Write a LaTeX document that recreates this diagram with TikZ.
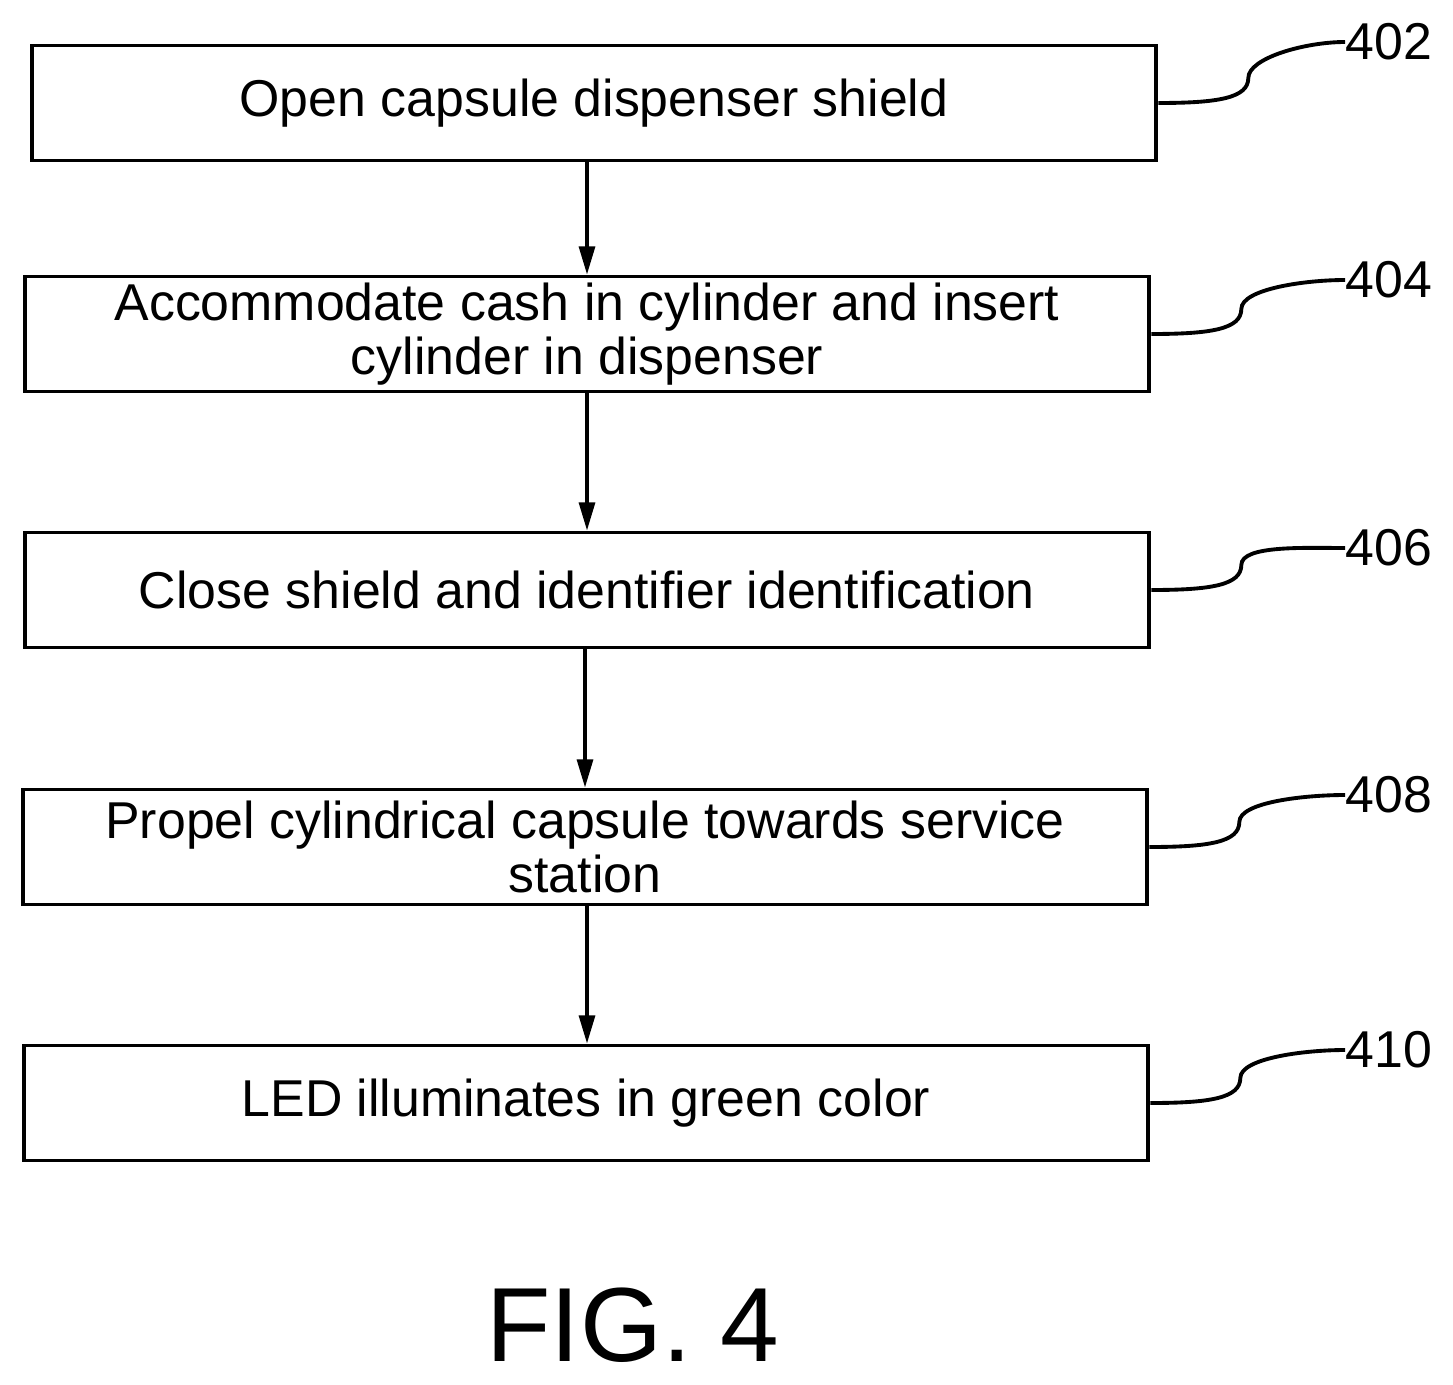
\documentclass[tikz,border=0pt]{standalone}
\usepackage{fontspec}
\setmainfont{Liberation Sans}
\usetikzlibrary{arrows.meta}
\begin{document}
\begin{tikzpicture}[x=0.02cm,y=-0.02cm,
    stepbox/.style={draw,line width=2.2pt,minimum width=22.5cm,minimum height=2.3cm,
      align=center,font=\fontsize{29.5}{31}\selectfont,inner sep=0pt},
    flow/.style={line width=2pt,-{Triangle[length=16pt,width=9pt]}},
    tag/.style={font=\fontsize{29.5}{31}\selectfont,anchor=west,inner sep=0pt},
    lead/.style={line width=2.2pt}]
  \useasboundingbox (0,0) rectangle (1453,1385);

  % Schritte
  \node[stepbox] (s402) at (594,103) {Open capsule dispenser shield};
  \node[stepbox] (s404) at (587,334) {Accommodate cash in cylinder and insert\\cylinder in dispenser};
  \node[stepbox] (s406) at (587,590) {Close shield and identifier identification};
  \node[stepbox] (s408) at (585,847) {Propel cylindrical capsule towards service\\station};
  \node[stepbox] (s410) at (586,1103) {LED illuminates in green color};

  % Pfeile
  \draw[flow] (s402.south -| 587,0) -- (s404.north -| 587,0);
  \draw[flow] (s404.south -| 587,0) -- (s406.north -| 587,0);
  \draw[flow] (s406.south -| 585,0) -- (s408.north -| 585,0);
  \draw[flow] (s408.south -| 587,0) -- (s410.north -| 587,0);

  % Bezugszeichen
  \foreach \s/\n/\y in {s402/402/42, s404/404/280, s406/406/548, s408/408/795, s410/410/1050}{
    \node[tag] (t\n) at (1345,\y) {\n};
    \draw[lead] (\s.east) .. controls +(60,0) and +(0,20) .. ++(90,-25)
      .. controls +(0,-20) and +(-40,0) .. (t\n.west);
  }

  % Titel
  \node[font=\fontsize{60}{64}\selectfont] (fig) at (633,1325) {FIG. 4};
\end{tikzpicture}
\end{document}
